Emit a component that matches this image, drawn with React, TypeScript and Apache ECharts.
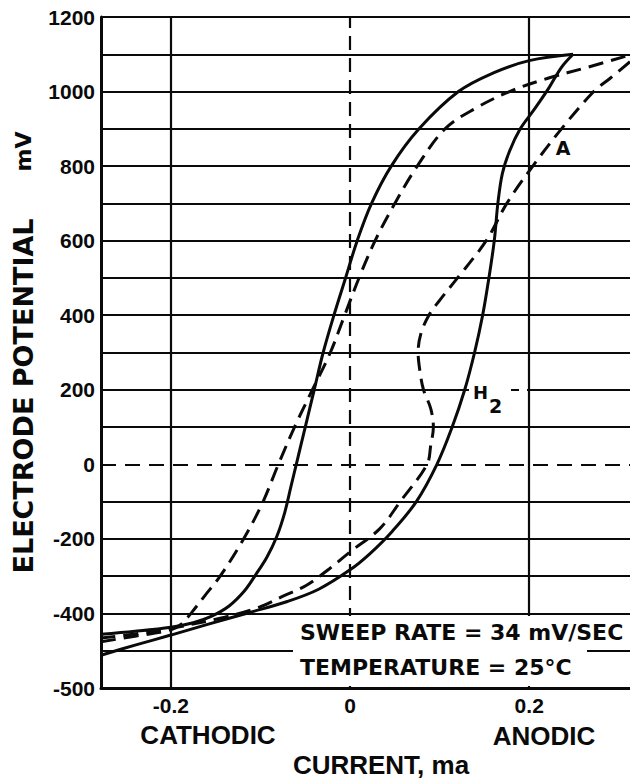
import React, { useEffect, useRef } from "react";
import * as echarts from "echarts";

// ---- data: [current (mA), electrode potential (mV)] ----
const solidAnodic: [number, number][] = [
  [-0.278, -456], [-0.24, -448], [-0.2, -437], [-0.175, -425], [-0.155, -408],
  [-0.135, -380], [-0.118, -340], [-0.105, -295], [-0.093, -250], [-0.082, -195],
  [-0.073, -130], [-0.066, -60], [-0.06, 0], [-0.05, 100], [-0.04, 200],
  [-0.03, 300], [-0.018, 400], [-0.005, 500], [0.008, 600], [0.024, 700],
  [0.046, 800], [0.077, 900], [0.121, 1000], [0.16, 1050], [0.2, 1083], [0.249, 1100],
];
const solidCathodic: [number, number][] = [
  [0.249, 1100], [0.236, 1065], [0.222, 1010], [0.205, 950], [0.19, 900],
  [0.178, 840], [0.17, 780], [0.165, 700], [0.161, 600], [0.155, 500],
  [0.148, 400], [0.139, 300], [0.128, 200], [0.114, 100], [0.097, 0],
  [0.074, -100], [0.047, -180], [0.022, -240], [0, -283], [-0.035, -335],
  [-0.07, -368], [-0.11, -396], [-0.16, -430], [-0.2, -458], [-0.24, -485], [-0.278, -512],
];
const dashedAnodic: [number, number][] = [
  [-0.278, -476], [-0.24, -461], [-0.2, -444], [-0.188, -428], [-0.176, -395],
  [-0.162, -352], [-0.145, -300], [-0.12, -205], [-0.098, -105], [-0.08, 0],
  [-0.062, 100], [-0.042, 200], [-0.022, 300], [-0.006, 400], [0.01, 500],
  [0.028, 600], [0.05, 700], [0.075, 800], [0.106, 900], [0.14, 955],
  [0.178, 1000], [0.22, 1035], [0.265, 1065], [0.3125, 1098],
];
const dashedCathodic: [number, number][] = [
  [0.3125, 1080], [0.29, 1035], [0.272, 1000], [0.236, 900], [0.204, 800],
  [0.175, 700], [0.152, 600], [0.12, 500], [0.1, 440], [0.088, 400],
  [0.079, 350], [0.076, 300], [0.078, 250], [0.082, 200], [0.09, 150],
  [0.093, 100], [0.09, 50], [0.086, 0], [0.056, -100], [0.033, -173],
  [0, -235], [-0.023, -280], [-0.049, -325], [-0.076, -355], [-0.1, -382],
  [-0.14, -410], [-0.2, -440], [-0.24, -455], [-0.278, -466],
];

const xTickValues = [-0.2, 0, 0.2];
const xTickLabels = ["-0.2", "0", "0.2"];
const yLabelValues = [-600, -400, -200, 0, 200, 400, 600, 800, 1000, 1200];
const yLabelTexts = ["-500", "-400", "-200", "0", "200", "400", "600", "800", "1000", "1200"];
const yGridSolid = [-500, -400, -300, -200, -100, 100, 200, 300, 400, 500, 600, 700, 800, 900, 1000, 1100, 1200];
const yGridDashed = [0];
const xGridSolid = [-0.2, 0.2];
const xGridDashed = [0];

const INK = "#0a0a0a";
const NUM_FONT = "'Liberation Sans', Arial, sans-serif";
const TXT_FONT = "'DejaVu Sans', sans-serif";

function buildOption() {
  const bold = (size: number, family = TXT_FONT) => `bold ${size}px ${family}`;
  return {
    animation: false,
    backgroundColor: "#ffffff",
    grid: { left: 101, right: 0, top: 17, bottom: 95, containLabel: false, outerBoundsMode: "none" },
    xAxis: {
      type: "value",
      min: -0.278,
      max: 0.3125,
      axisLine: { onZero: false, lineStyle: { color: INK, width: 3 } },
      axisTick: { show: false },
      splitLine: { show: false },
      axisLabel: {
        customValues: xTickValues,
        margin: 7,
        color: INK,
        fontFamily: NUM_FONT,
        fontWeight: "bold",
        fontSize: 21,
        formatter: (v: number) => {
          const i = xTickValues.findIndex((t) => Math.abs(t - v) < 1e-6);
          return i >= 0 ? xTickLabels[i] : "";
        },
      },
      name: "CURRENT, ma",
      nameLocation: "middle",
      nameGap: 64,
      nameTextStyle: {
        color: INK,
        fontFamily: NUM_FONT,
        fontWeight: "bold",
        fontSize: 26,
        padding: [0, 0, 0, 31],
      },
    },
    yAxis: {
      type: "value",
      min: -600,
      max: 1200,
      interval: 100,
      axisLine: { show: true, onZero: false, lineStyle: { color: INK, width: 3 } },
      axisTick: { show: false },
      splitLine: { show: false },
      axisLabel: {
        customValues: yLabelValues,
        margin: 6,
        color: INK,
        fontFamily: NUM_FONT,
        fontWeight: "bold",
        fontSize: 21,
        formatter: (v: number) => {
          const i = yLabelValues.indexOf(v);
          return i >= 0 ? yLabelTexts[i] : "";
        },
      },
      name: "{t|ELECTRODE POTENTIAL}{u|mV}",
      nameLocation: "middle",
      nameGap: 62,
      nameTextStyle: {
        rich: {
          t: { fontFamily: TXT_FONT, fontWeight: "bold", fontSize: 27, color: INK },
          u: { fontFamily: TXT_FONT, fontWeight: "bold", fontSize: 22, color: INK, padding: [0, 0, 0, 47] },
        },
      },
    },
    series: [
      {
        name: "grid",
        type: "line",
        data: [],
        silent: true,
        z: 1,
        markLine: {
          silent: true,
          symbol: ["none", "none"],
          label: { show: false },
          lineStyle: { color: INK, width: 2.2, type: "solid" },
          data: [
            ...yGridSolid.map((v) => ({ yAxis: v })),
            ...yGridDashed.map((v) => ({ yAxis: v, lineStyle: { type: [15, 9], width: 2.2, color: INK } })),
            ...xGridSolid.map((v) => ({ xAxis: v })),
            ...xGridDashed.map((v) => ({ xAxis: v, lineStyle: { type: [14, 8], width: 2.2, color: INK } })),
          ],
        },
      },
      {
        name: "Solid sweep (anodic)",
        type: "line",
        data: solidAnodic,
        showSymbol: false,
        smooth: 0.35,
        z: 3,
        lineStyle: { color: INK, width: 3 },
      },
      {
        name: "Solid sweep (cathodic)",
        type: "line",
        data: solidCathodic,
        showSymbol: false,
        smooth: 0.35,
        z: 3,
        lineStyle: { color: INK, width: 3 },
      },
      {
        name: "Dashed sweep (anodic)",
        type: "line",
        data: dashedAnodic,
        showSymbol: false,
        smooth: 0.35,
        z: 3,
        lineStyle: { color: INK, width: 3, type: [15, 8] },
      },
      {
        name: "Dashed sweep (cathodic)",
        type: "line",
        data: dashedCathodic,
        showSymbol: false,
        smooth: 0.35,
        z: 3,
        lineStyle: { color: INK, width: 3, type: [15, 8] },
      },
    ],
    graphic: [
      { type: "rect", z: 100, silent: true, shape: { x: 293, y: 616, width: 337, height: 30 }, style: { fill: "#fff" } },
      { type: "rect", z: 100, silent: true, shape: { x: 293, y: 646, width: 294, height: 40 }, style: { fill: "#fff" } },
      {
        type: "text", z: 101, x: 300, y: 632,
        style: { text: "SWEEP RATE = 34 mV/SEC", font: bold(22), fill: INK, align: "left", verticalAlign: "middle" },
      },
      {
        type: "text", z: 101, x: 300, y: 667,
        style: { text: "TEMPERATURE = 25°C", font: bold(22), fill: INK, align: "left", verticalAlign: "middle" },
      },
      { type: "rect", z: 100, silent: true, shape: { x: 469, y: 381, width: 42, height: 33 }, style: { fill: "#fff" } },
      { type: "rect", z: 100, silent: true, shape: { x: 519, y: 386, width: 8, height: 8 }, style: { fill: "#fff" } },
      {
        type: "text", z: 101, x: 473, y: 392,
        style: { text: "H", font: bold(18), fill: INK, align: "left", verticalAlign: "middle" },
      },
      {
        type: "text", z: 101, x: 489, y: 406,
        style: { text: "2", font: bold(19), fill: INK, align: "left", verticalAlign: "middle" },
      },
      {
        type: "text", z: 101, x: 563, y: 148,
        style: { text: "A", font: bold(19), fill: INK, align: "center", verticalAlign: "middle" },
      },
      {
        type: "text", z: 101, x: 208, y: 735,
        style: { text: "CATHODIC", font: bold(26, NUM_FONT), fill: INK, align: "center", verticalAlign: "middle" },
      },
      {
        type: "text", z: 101, x: 544, y: 736,
        style: { text: "ANODIC", font: bold(26, NUM_FONT), fill: INK, align: "center", verticalAlign: "middle" },
      },
    ],
  };
}

export default function App() {
  const ref = useRef<HTMLDivElement>(null);
  useEffect(() => {
    if (!ref.current) return;
    const chart = echarts.init(ref.current, null, { renderer: "svg" });
    chart.setOption(buildOption() as any);
    return () => chart.dispose();
  }, []);
  return (
    <div
      ref={ref}
      style={{ position: "fixed", left: 0, top: 0, width: 630, height: 783, background: "#fff" }}
    />
  );
}
